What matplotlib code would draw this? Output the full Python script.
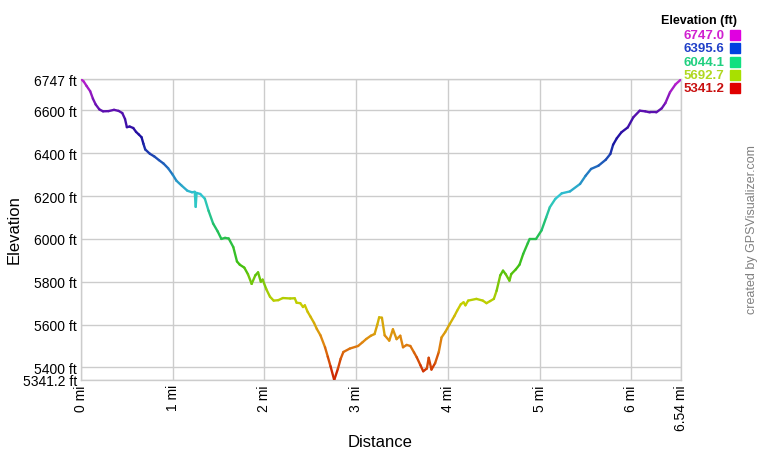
import matplotlib
matplotlib.use("Agg")
import matplotlib.pyplot as plt
from matplotlib.collections import LineCollection
from matplotlib.colors import LinearSegmentedColormap, Normalize
import numpy as np

plt.rcParams['font.family'] = ['Liberation Sans', 'DejaVu Sans']

# elevation profile (miles, feet)
dist_mi = [0.00, 0.03, 0.06, 0.10, 0.13, 0.16, 0.20, 0.24, 0.30, 0.36, 0.41, 0.45,
           0.48, 0.50, 0.53, 0.57, 0.60, 0.63, 0.66, 0.68, 0.70, 0.75, 0.80, 0.85,
           0.90, 0.95, 1.00, 1.04, 1.10, 1.16, 1.21, 1.24, 1.25, 1.26, 1.30, 1.35,
           1.39, 1.44, 1.49, 1.53, 1.57, 1.61, 1.66, 1.70, 1.73, 1.78, 1.82, 1.86,
           1.90, 1.93, 1.96, 1.98, 2.02, 2.06, 2.10, 2.15, 2.20, 2.28, 2.33, 2.35,
           2.39, 2.42, 2.44, 2.47, 2.50, 2.54, 2.57, 2.61, 2.66, 2.69, 2.72, 2.76,
           2.80, 2.83, 2.86, 2.93, 3.02, 3.07, 3.11, 3.16, 3.20, 3.23, 3.25, 3.28,
           3.31, 3.36, 3.40, 3.44, 3.48, 3.51, 3.55, 3.59, 3.63, 3.66, 3.70, 3.73,
           3.77, 3.79, 3.82, 3.86, 3.90, 3.93, 3.97, 4.02, 4.07, 4.10, 4.14, 4.17,
           4.19, 4.22, 4.31, 4.38, 4.42, 4.46, 4.50, 4.53, 4.57, 4.60, 4.63, 4.67,
           4.69, 4.74, 4.78, 4.82, 4.87, 4.89, 4.96, 5.02, 5.07, 5.11, 5.17, 5.24,
           5.33, 5.44, 5.50, 5.56, 5.64, 5.72, 5.77, 5.80, 5.84, 5.89, 5.96, 6.02,
           6.09, 6.15, 6.20, 6.27, 6.33, 6.37, 6.42, 6.48, 6.54]
elev_ft = [6747, 6735, 6715, 6690, 6655, 6628, 6605, 6596, 6597, 6603, 6598, 6588,
           6560, 6522, 6525, 6518, 6500, 6488, 6475, 6445, 6418, 6398, 6385, 6368,
           6352, 6330, 6300, 6272, 6248, 6225, 6218, 6220, 6150, 6215, 6210, 6188,
           6132, 6072, 6035, 6000, 6005, 6002, 5962, 5895, 5880, 5866, 5835, 5790,
           5830, 5844, 5800, 5810, 5765, 5730, 5712, 5714, 5724, 5722, 5723, 5702,
           5700, 5682, 5690, 5660, 5638, 5608, 5580, 5550, 5494, 5450, 5405, 5341.2,
           5393, 5440, 5472, 5488, 5500, 5518, 5533, 5548, 5556, 5600, 5634, 5632,
           5550, 5525, 5578, 5532, 5548, 5494, 5505, 5500, 5470, 5447, 5410, 5382,
           5395, 5445, 5390, 5420, 5472, 5540, 5565, 5603, 5640, 5665, 5695, 5704,
           5690, 5712, 5720, 5712, 5700, 5710, 5720, 5758, 5830, 5852, 5835, 5805,
           5836, 5858, 5880, 5930, 5980, 6000, 6000, 6040, 6100, 6148, 6187, 6213,
           6222, 6257, 6295, 6327, 6342, 6370, 6397, 6440, 6470, 6498, 6521, 6568,
           6599, 6596, 6591, 6591, 6610, 6635, 6685, 6722, 6745]

y_ticks = [5341.2, 5400, 5600, 5800, 6000, 6200, 6400, 6600, 6747]
y_labels = ["5341.2 ft", "5400 ft", "5600 ft", "5800 ft", "6000 ft",
            "6200 ft", "6400 ft", "6600 ft", "6747 ft"]
x_ticks = [0, 1, 2, 3, 4, 5, 6, 6.54]
x_labels = ["0 mi", "1 mi", "2 mi", "3 mi", "4 mi", "5 mi", "6 mi", "6.54 mi"]

legend_vals = ["6747.0", "6395.6", "6044.1", "5692.7", "5341.2"]
legend_text_colors = ["#d020d0", "#2040c8", "#20d080", "#b0d820", "#c81010"]
legend_box_colors = ["#e000e0", "#0040e0", "#10e080", "#a8e000", "#e00000"]

line_cmap = LinearSegmentedColormap.from_list("elev", [
    (0.00, "#cc1a00"), (0.13, "#e08a10"), (0.25, "#c8d000"), (0.38, "#40c010"),
    (0.50, "#20c060"), (0.61, "#30c8d0"), (0.70, "#2070c0"), (0.80, "#1810a0"),
    (0.90, "#6010b0"), (1.00, "#c020d0")])

fig = plt.figure(figsize=(7.6, 4.6), dpi=100)
ax = fig.add_axes([81 / 760, 1 - 381 / 460, 600 / 760, 301 / 460])

x = np.array(dist_mi)
y = np.array(elev_ft)
pts = np.column_stack([x, y]).reshape(-1, 1, 2)
segs = np.concatenate([pts[:-1], pts[1:]], axis=1)
norm = Normalize(5341.2, 6747)
lc = LineCollection(segs, colors=line_cmap(norm((y[:-1] + y[1:]) / 2)),
                    linewidths=1.7, capstyle='round', joinstyle='round', zorder=3)
ax.add_collection(lc)

ax.set_xlim(0, 6.54)
ax.set_ylim(5341.2, 6747)
ax.set_yticks(y_ticks)
ax.set_yticklabels(y_labels, fontsize=10)
ax.set_xticks(x_ticks)
ax.set_xticklabels(x_labels, fontsize=10, rotation=90)
ax.tick_params(length=0, pad=3)
ax.grid(True, color="#cccccc", linewidth=1)
for s in ax.spines.values():
    s.set_color("#cccccc")
    s.set_linewidth(1)

# axis titles placed where the reference has them
fig.text(380 / 760, 1 - 443 / 460, "Distance", fontsize=12, ha='center', va='center')
fig.text(14 / 760, 1 - 230 / 460, "Elevation", fontsize=12, rotation=90,
         ha='center', va='center')

# legend block at top right
fig.text(737 / 760, 1 - 21 / 460, "Elevation (ft)", fontsize=9, fontweight='bold',
         ha='right', va='center')
for i, (v, tc, bc) in enumerate(zip(legend_vals, legend_text_colors, legend_box_colors)):
    yy = 1 - (36 + i * 13.3) / 460
    fig.text(724 / 760, yy, v, fontsize=9.5, fontweight='bold', color=tc,
             ha='right', va='center')
    fig.patches.append(plt.Rectangle((730 / 760, yy - 5 / 460), 10 / 760, 10 / 460,
                                     transform=fig.transFigure, color=bc))

fig.text(752 / 760, 1 - 230 / 460, "created by GPSVisualizer.com", fontsize=9,
         color="#808080", rotation=90, ha='center', va='center')

fig.savefig("out.png", dpi=100)
